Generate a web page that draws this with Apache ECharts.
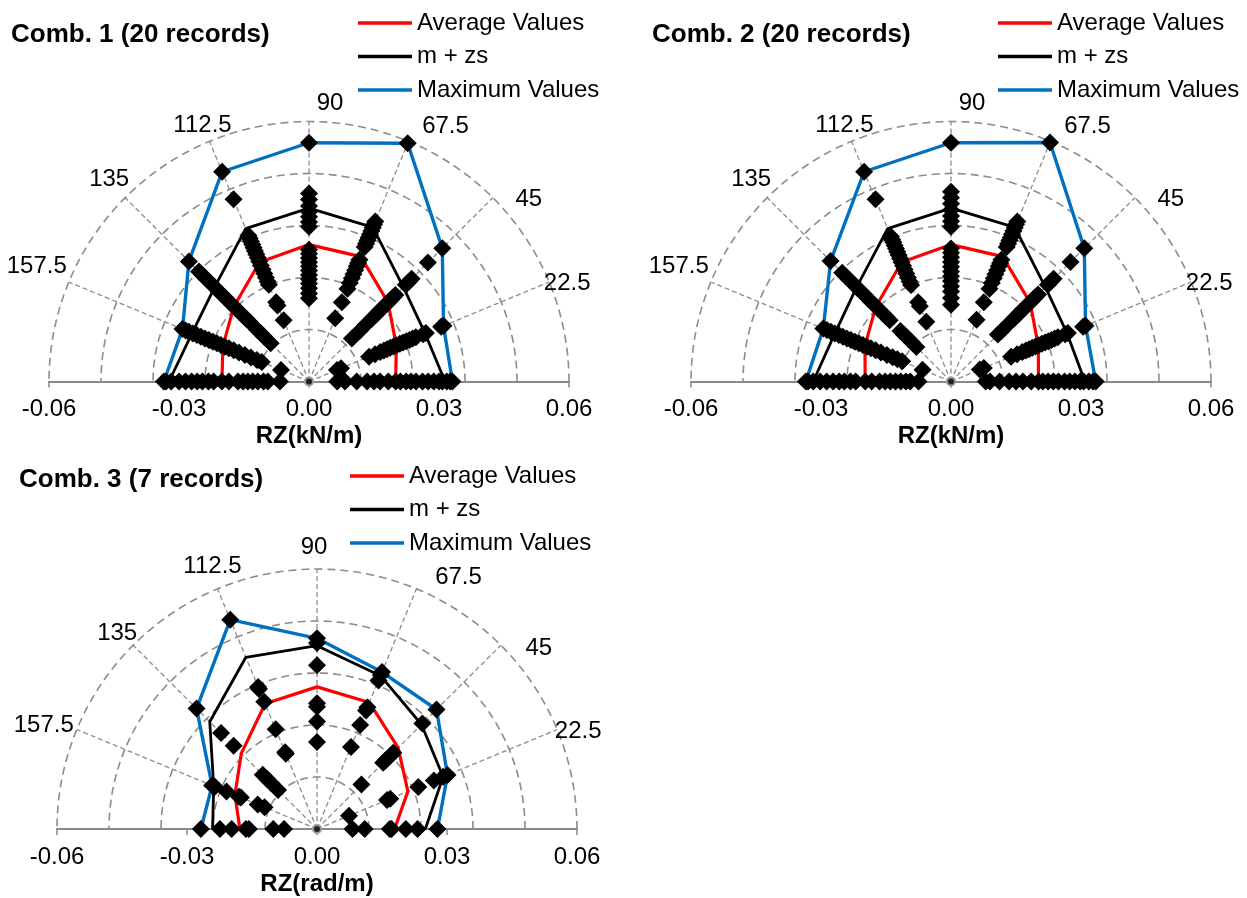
<!DOCTYPE html>
<html>
<head>
<meta charset="utf-8">
<script src="https://cdn.jsdelivr.net/npm/echarts@6/dist/echarts.min.js"></script>
<style>
  html, body { margin: 0; padding: 0; background: #fff; }
  #chart { width: 1247px; height: 898px; }
</style>
</head>
<body>
<div id="chart"></div>
<script>
// directions (deg) and their labels
const angles = [0, 22.5, 45, 67.5, 90, 112.5, 135, 157.5, 180];
const angleLabels = ['22.5', '45', '67.5', '90', '112.5', '135', '157.5'];
const ringRadii = [0.012, 0.024, 0.036, 0.048, 0.06];
const seriesNames = ['Average Values', 'm + zs', 'Maximum Values'];

// Comb. 1 (20 records) - values per direction 0..180
const comb1Avg = [0.0200, 0.0218, 0.0258, 0.0312, 0.0316, 0.0298, 0.0245, 0.0215, 0.0201];
const comb1Mzs = [0.0314, 0.0290, 0.0308, 0.0385, 0.0400, 0.0382, 0.0308, 0.0292, 0.0323];
const comb1Max = [0.0331, 0.0336, 0.0435, 0.0595, 0.0551, 0.0524, 0.0392, 0.0316, 0.0335];
const comb1Records = [
  [0.0331, 0.0326, 0.0318, 0.0308, 0.0300, 0.0288, 0.0275, 0.0262, 0.0247, 0.0235, 0.0224, 0.0211, 0.0200, 0.0183, 0.0164, 0.0150, 0.0134, 0.0110, 0.0083, 0.0065],
  [0.0336, 0.0330, 0.0292, 0.0285, 0.0267, 0.0259, 0.0251, 0.0243, 0.0235, 0.0227, 0.0219, 0.0211, 0.0203, 0.0195, 0.0187, 0.0178, 0.0165, 0.0150, 0.0080, 0.0070],
  [0.0435, 0.0388, 0.0335, 0.0325, 0.0316, 0.0282, 0.0275, 0.0268, 0.0261, 0.0254, 0.0247, 0.0240, 0.0233, 0.0226, 0.0219, 0.0212, 0.0205, 0.0185, 0.0166, 0.0140],
  [0.0595, 0.0400, 0.0392, 0.0384, 0.0376, 0.0368, 0.0360, 0.0352, 0.0344, 0.0336, 0.0304, 0.0296, 0.0288, 0.0278, 0.0268, 0.0258, 0.0246, 0.0232, 0.0198, 0.0158],
  [0.0551, 0.0434, 0.0420, 0.0405, 0.0392, 0.0380, 0.0368, 0.0357, 0.0304, 0.0295, 0.0285, 0.0275, 0.0266, 0.0256, 0.0246, 0.0236, 0.0226, 0.0215, 0.0203, 0.0192],
  [0.0524, 0.0455, 0.0365, 0.0358, 0.0350, 0.0342, 0.0334, 0.0326, 0.0318, 0.0309, 0.0300, 0.0290, 0.0280, 0.0270, 0.0260, 0.0250, 0.0242, 0.0198, 0.0190, 0.0153],
  [0.0392, 0.0359, 0.0346, 0.0334, 0.0322, 0.0310, 0.0298, 0.0286, 0.0274, 0.0262, 0.0250, 0.0238, 0.0226, 0.0214, 0.0203, 0.0193, 0.0170, 0.0158, 0.0147, 0.0125],
  [0.0316, 0.0308, 0.0300, 0.0290, 0.0280, 0.0270, 0.0260, 0.0250, 0.0240, 0.0230, 0.0220, 0.0210, 0.0200, 0.0188, 0.0175, 0.0160, 0.0145, 0.0130, 0.0118, 0.0070],
  [0.0335, 0.0330, 0.0318, 0.0300, 0.0285, 0.0271, 0.0258, 0.0246, 0.0232, 0.0220, 0.0201, 0.0185, 0.0164, 0.0152, 0.0141, 0.0130, 0.0118, 0.0105, 0.0095, 0.0067]
];

// Comb. 2 (20 records)
const comb2Avg = [0.0202, 0.0218, 0.0258, 0.0312, 0.0316, 0.0298, 0.0245, 0.0215, 0.0198];
const comb2Mzs = [0.0309, 0.0290, 0.0308, 0.0385, 0.0400, 0.0382, 0.0308, 0.0290, 0.0318];
const comb2Max = [0.0334, 0.0336, 0.0435, 0.0597, 0.0551, 0.0524, 0.0393, 0.0319, 0.0335];
const comb2Records = [
  [0.0334, 0.0328, 0.0318, 0.0306, 0.0298, 0.0286, 0.0274, 0.0262, 0.0248, 0.0236, 0.0224, 0.0212, 0.0202, 0.0185, 0.0166, 0.0150, 0.0134, 0.0112, 0.0090, 0.0080],
  [0.0336, 0.0330, 0.0292, 0.0285, 0.0267, 0.0259, 0.0251, 0.0243, 0.0235, 0.0227, 0.0219, 0.0211, 0.0203, 0.0195, 0.0187, 0.0178, 0.0165, 0.0150, 0.0082, 0.0072],
  [0.0435, 0.0390, 0.0335, 0.0325, 0.0316, 0.0284, 0.0276, 0.0268, 0.0261, 0.0254, 0.0247, 0.0240, 0.0233, 0.0226, 0.0219, 0.0212, 0.0205, 0.0185, 0.0166, 0.0153],
  [0.0597, 0.0400, 0.0392, 0.0384, 0.0376, 0.0368, 0.0360, 0.0352, 0.0344, 0.0336, 0.0304, 0.0296, 0.0288, 0.0278, 0.0268, 0.0258, 0.0246, 0.0232, 0.0198, 0.0154],
  [0.0551, 0.0438, 0.0424, 0.0410, 0.0396, 0.0382, 0.0370, 0.0357, 0.0307, 0.0297, 0.0287, 0.0276, 0.0265, 0.0254, 0.0243, 0.0232, 0.0220, 0.0208, 0.0193, 0.0177],
  [0.0524, 0.0455, 0.0362, 0.0355, 0.0348, 0.0340, 0.0332, 0.0324, 0.0316, 0.0307, 0.0298, 0.0289, 0.0280, 0.0270, 0.0260, 0.0250, 0.0241, 0.0198, 0.0188, 0.0149],
  [0.0393, 0.0355, 0.0343, 0.0331, 0.0319, 0.0307, 0.0295, 0.0283, 0.0271, 0.0259, 0.0247, 0.0235, 0.0223, 0.0211, 0.0200, 0.0165, 0.0152, 0.0140, 0.0127, 0.0113],
  [0.0319, 0.0310, 0.0300, 0.0290, 0.0280, 0.0270, 0.0260, 0.0250, 0.0240, 0.0230, 0.0220, 0.0210, 0.0200, 0.0188, 0.0175, 0.0160, 0.0146, 0.0134, 0.0122, 0.0071],
  [0.0335, 0.0330, 0.0318, 0.0302, 0.0287, 0.0272, 0.0258, 0.0246, 0.0232, 0.0220, 0.0198, 0.0183, 0.0165, 0.0152, 0.0140, 0.0128, 0.0116, 0.0104, 0.0094, 0.0075]
];

// Comb. 3 (7 records)
const comb3Avg = [0.0179, 0.0227, 0.0265, 0.0316, 0.0328, 0.0313, 0.0247, 0.0205, 0.0178];
const comb3Mzs = [0.0250, 0.0315, 0.0341, 0.0383, 0.0423, 0.0429, 0.0350, 0.0258, 0.0241];
const comb3Max = [0.0278, 0.0326, 0.0390, 0.0392, 0.0440, 0.0523, 0.0393, 0.0262, 0.0268];
const comb3Records = [
  [0.0278, 0.0232, 0.0205, 0.0172, 0.0168, 0.0110, 0.0082],
  [0.0326, 0.0315, 0.0292, 0.0253, 0.0183, 0.0175, 0.0080],
  [0.0390, 0.0344, 0.0249, 0.0240, 0.0225, 0.0216, 0.0145],
  [0.0392, 0.0385, 0.0371, 0.0304, 0.0296, 0.0260, 0.0205],
  [0.0440, 0.0429, 0.0378, 0.0290, 0.0282, 0.0248, 0.0201],
  [0.0523, 0.0355, 0.0350, 0.0318, 0.0249, 0.0192, 0.0188],
  [0.0393, 0.0313, 0.0272, 0.0177, 0.0162, 0.0151, 0.0127],
  [0.0262, 0.0255, 0.0226, 0.0195, 0.0190, 0.0148, 0.0131],
  [0.0268, 0.0224, 0.0197, 0.0164, 0.0157, 0.0101, 0.0076]
];

const FONT = '"Liberation Sans", Arial, sans-serif';
const rad = (d) => (d * Math.PI) / 180;
const polar = (r, a) => [r * Math.cos(rad(a)), r * Math.sin(rad(a))];

// label offsets (px) for 22.5 .. 157.5
const offsetsTop = [[18, 1], [36, 2], [37, -15], [21, -18], [-7, -15.5], [-16, -18.5], [-32, -16]];
const offsetsBottom = [[21, 2], [38, 3], [42, -11], [-3, -22], [-5, -22], [-16, -12], [-33, -4.5]];

const panels = [
  {
    title: 'Comb. 1 (20 records)', unit: 'RZ(kN/m)',
    avg: comb1Avg, mzs: comb1Mzs, max: comb1Max, records: comb1Records,
    grid: { left: 49, top: 78.2, width: 520, height: 303.3 },
    titlePos: { left: 11, top: 22 }, legendPos: { left: 358, top: 11 },
    offsets: offsetsTop
  },
  {
    title: 'Comb. 2 (20 records)', unit: 'RZ(kN/m)',
    avg: comb2Avg, mzs: comb2Mzs, max: comb2Max, records: comb2Records,
    grid: { left: 691, top: 78.2, width: 520, height: 303.3 },
    titlePos: { left: 652, top: 22 }, legendPos: { left: 998, top: 11 },
    offsets: offsetsTop
  },
  {
    title: 'Comb. 3 (7 records)', unit: 'RZ(rad/m)',
    avg: comb3Avg, mzs: comb3Mzs, max: comb3Max, records: comb3Records,
    grid: { left: 57, top: 525.7, width: 520, height: 303.3 },
    titlePos: { left: 19, top: 467 }, legendPos: { left: 350, top: 464 },
    offsets: offsetsBottom
  }
];

const lineColors = ['#ff0000', '#000000', '#0070c0'];
const lineWidths = [3.2, 2.8, 3.4];

const series = [];
panels.forEach((p, i) => {
  const ax = { xAxisIndex: i, yAxisIndex: i };
  // dashed rings
  ringRadii.forEach((r) => {
    const pts = [];
    for (let a = 0; a <= 180; a += 2) pts.push(polar(r, a));
    series.push({
      type: 'line', ...ax, data: pts, symbol: 'none', silent: true, z: 1,
      lineStyle: { color: '#8c8c8c', width: 1.6, type: [8, 5] }
    });
  });
  // dashed spokes
  angles.slice(1, -1).forEach((a) => {
    series.push({
      type: 'line', ...ax, data: [[0, 0], polar(0.06, a)], symbol: 'none', silent: true, z: 1,
      lineStyle: { color: '#8c8c8c', width: 1.3, type: [5, 3] }
    });
  });
  // envelope lines
  [p.avg, p.mzs, p.max].forEach((vals, k) => {
    series.push({
      type: 'line', ...ax, name: seriesNames[k],
      data: vals.map((r, j) => polar(r, angles[j])),
      symbol: 'none', z: 3,
      itemStyle: { color: lineColors[k] },
      lineStyle: { color: lineColors[k], width: lineWidths[k] }
    });
  });
  // record diamonds
  const pts = [];
  p.records.forEach((list, j) => list.forEach((r) => pts.push(polar(r, angles[j]))));
  series.push({
    type: 'scatter', ...ax, data: pts, symbol: 'diamond', symbolSize: 18, z: 5,
    itemStyle: { color: '#000', opacity: 1 }, silent: true
  });
  // origin marker
  series.push({
    type: 'scatter', ...ax, data: [[0, 0]], symbol: 'circle', symbolSize: 8, z: 6, silent: true,
    itemStyle: { color: '#222', borderColor: '#999', borderWidth: 2, opacity: 1 }
  });
  // angle labels
  series.push({
    type: 'scatter', ...ax, symbol: 'circle', symbolSize: 1, z: 6, silent: true,
    itemStyle: { color: 'transparent', opacity: 1 },
    data: angleLabels.map((t, k) => ({
      value: polar(0.06, angles[k + 1]),
      label: { formatter: t, offset: p.offsets[k] }
    })),
    label: { show: true, position: 'inside', fontSize: 24, fontFamily: FONT, color: '#000', opacity: 1 }
  });
});

const chart = echarts.init(document.getElementById('chart'));
chart.setOption({
  animation: false,
  backgroundColor: '#fff',
  title: panels.map((p) => ({
    text: p.title, left: p.titlePos.left, top: p.titlePos.top, padding: 0,
    textStyle: { fontFamily: FONT, fontSize: 26, fontWeight: 'bold', color: '#000' }
  })),
  legend: panels.map((p) => ({
    left: p.legendPos.left, top: p.legendPos.top, orient: 'vertical', padding: 0,
    icon: 'rect', itemWidth: 54, itemHeight: 3.5, itemGap: 9.5, selectedMode: false,
    textStyle: { fontFamily: FONT, fontSize: 24, color: '#000', lineHeight: 23 },
    data: seriesNames
  })),
  grid: panels.map((p) => ({ ...p.grid })),
  xAxis: panels.map((p, i) => ({
    gridIndex: i, type: 'value', min: -0.06, max: 0.06, interval: 0.03,
    splitLine: { show: false },
    axisLine: { onZero: false, lineStyle: { color: '#898989', width: 2 } },
    axisTick: { show: true, length: 6, lineStyle: { color: '#898989', width: 1.5 } },
    axisLabel: {
      margin: 16, fontSize: 24, fontFamily: FONT, color: '#000',
      formatter: (v) => v.toFixed(2)
    },
    name: p.unit, nameLocation: 'middle', nameGap: 43,
    nameTextStyle: { fontFamily: FONT, fontSize: 24, fontWeight: 'bold', color: '#000' }
  })),
  yAxis: panels.map((p, i) => ({ gridIndex: i, type: 'value', min: 0, max: 0.07, show: false })),
  series: series
});
</script>
</body>
</html>
